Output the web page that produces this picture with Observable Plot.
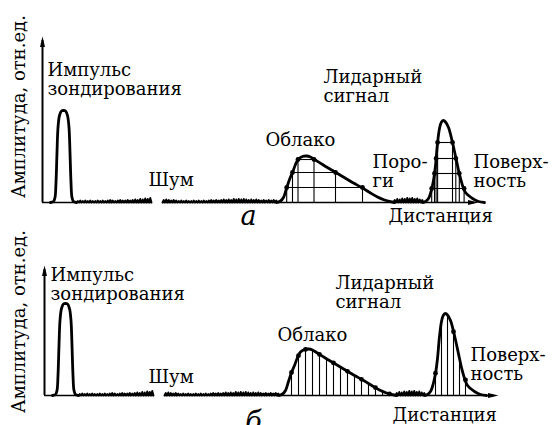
<!DOCTYPE html>
<html><head><meta charset="utf-8">
<script src="https://cdn.jsdelivr.net/npm/d3@7"></script>
<script src="https://cdn.jsdelivr.net/npm/@observablehq/plot@0.6"></script>
<style>
html,body{margin:0;padding:0;background:#fff;}
#wrap{position:relative;width:555px;height:425px;overflow:hidden;background:#fff;}
#wrap svg{position:absolute;left:0;top:0;}
</style></head><body><div id="wrap"></div>
<script>
// ---- Data (distance and amplitude in arbitrary units) ----
const pulseD = [8,11,12.5,13.5,14.5,15.5,17,19,21,23,25,26.5,27.5,28.5,29.5,31,34];
const pulseA = [0,1,5,20,50,75,87,91.5,92,91.5,87,75,50,20,5,1,0];

const cloudD = [234,238,241,244,247,250,253,256,260,264,268,272,280,290,300,310,320,328,335,342,348,352];
const cloudA = [0,1.5,5,14,23,30,38,43.5,46,46.5,45.5,43,38,32,26,20,14.5,9.5,5.5,2.5,0.8,0];

const surfaceD = [380,383,386,388,390,391.5,393,395,397,399,401,403,406,410,415,418,423,430,436,442];
const surfaceA = [0,1,4,9,17,25,37,59,74,80.5,82,80.5,75,60,37,24,10,4,1,0];

// noise bump heights
const noise1Start = 34, noise2Start = 120, noise3Start = 351, noiseStep = 2.5;
const noise1 = [1.5,2,1.5,2,1.5,2,1.5,1.5,2,1.5,2,1.5,2,2.5,2,1.5,2,2.5,2,2,2.5,2,2.5,3,2.5,3.5,3,4,3.5,4.5];
const noise2 = [2.5,3,2.5,2,2.5,2,1.5,2,1.5,2,1.5,1.5,2,1.5,2,1.5,2,1.5,2,2.5,2,2.5,2,2.5,3,2.5,3,2.5,3.5,3,3.5,3,3.5,3,2.5,3,2.5,3,2.5,2,2.5,2,2.5,2,2.5,2];
const noise3 = [2.5,3.5,3,4,3.5,4.5,4,4.5,3.5,4,3,2.5];

// axis break (gap in the distance axis)
const axisBreak = [110, 120];

// panel a: thresholds and curve crossings
const cloudLevels = [15, 30, 43];
const cloudLeft   = [244.2, 250, 255.5];
const cloudRight  = [320, 293, 271.5];
const surfLevels  = [14, 29, 44, 60];
const surfLeft    = [389.2, 392, 393.6, 395.1];
const surfRight   = [421.6, 416.8, 413.3, 410];

// panel b: uniform samples
const cloudSampleD   = [247,254,261,268,275,282,289,296,303,310,317,324,331,338,345];
const cloudSampleA   = [23,39.8,46.1,45.5,41.1,36.8,32.6,28.4,24.2,20,16.2,12,7.8,3.4,1.6];
const cloudSampleDot = [1,1,1,0,1,0,1,0,1,0,1,0,1,0,1];
const surfSampleD    = [391,397,403,409,415,421];
const surfSampleA    = [22.3,74,80.5,63.75,37,15.6];
const surfSampleDot  = [1,0,0,1,0,1];

// texts
const labelsA = ["Импульс\nзондирования","Шум","Облако","Лидарный\nсигнал","Поро-\nги","Поверх-\nность","Дистанция"];
const labelsB = ["Импульс\nзондирования","Шум","Облако","Лидарный\nсигнал","Поверх-\nность","Дистанция"];
const yTitle = "Амплитуда, отн.ед.";
const panelNames = ["а","б"];

// ---- helpers ----
const serif = "'DejaVu Serif', 'Liberation Serif', serif";
const FS = 18;
const zip = (ds, as) => ds.map((d, i) => ({d, a: as[i]}));
function noisePts(start, hs) {
  const pts = [];
  hs.forEach((h, i) => { const x0 = start + i * noiseStep; pts.push({d: x0, a: 0}, {d: x0 + noiseStep / 2, a: h}); });
  pts.push({d: start + hs.length * noiseStep, a: 0});
  return pts;
}
const arrowSym = {draw(ctx, size) {
  const r = Math.sqrt(size / Math.PI);
  ctx.moveTo(0, 0); ctx.lineTo(r * 0.5, r * 2.1); ctx.lineTo(-r * 0.5, r * 2.1); ctx.closePath();
}};

function baseMarks(yTip, xTip) {
  const k = {stroke: "#000"};
  return [
    Plot.ruleX([0], {y1: 0, y2: yTip - 4, strokeWidth: 2, ...k}),
    Plot.dot([{d: 0, a: yTip}], {x: "d", y: "a", symbol: arrowSym, r: 5, fill: "#000", stroke: "none"}),
    Plot.ruleY([{x1: 0, x2: axisBreak[0]}, {x1: axisBreak[1], x2: xTip - 4}], {x1: "x1", x2: "x2", y: 0, strokeWidth: 1.7, ...k}),
    Plot.dot([{d: xTip, a: 0}], {x: "d", y: "a", symbol: arrowSym, r: 5, rotate: 90, fill: "#000", stroke: "none"})
  ];
}
function curveMarks() {
  const c = {x: "d", y: "a", stroke: "#000"};
  return [
    Plot.line(noisePts(noise1Start, noise1), {...c, strokeWidth: 1.9}),
    Plot.line(noisePts(noise2Start, noise2), {...c, strokeWidth: 1.9}),
    Plot.line(noisePts(noise3Start, noise3), {...c, strokeWidth: 1.9}),
    Plot.line(zip(pulseD, pulseA), {...c, curve: "catmull-rom", strokeWidth: 2.8}),
    Plot.line(zip(cloudD, cloudA), {...c, curve: "catmull-rom", strokeWidth: 2.8}),
    Plot.line(zip(surfaceD, surfaceA), {...c, curve: "catmull-rom", strokeWidth: 2.8})
  ];
}
function textMarks(labels, pos) {
  return Plot.text(labels.map((t, i) => ({t, d: pos[i][0], a: pos[i][1]})), {
    x: "d", y: "a", text: "t", textAnchor: "start", lineAnchor: "top",
    fontSize: FS, fontFamily: serif, lineHeight: 1.05, fill: "#000"
  });
}

// ---- panel a ----
const thr = [...cloudLevels.map((l, i) => ({l, x1: cloudLeft[i], x2: cloudRight[i]})),
             ...surfLevels.map((l, i) => ({l, x1: surfLeft[i], x2: surfRight[i]}))];
const cross = [...cloudLevels.flatMap((l, i) => [{d: cloudLeft[i], a: l}, {d: cloudRight[i], a: l}]),
               ...surfLevels.flatMap((l, i) => [{d: surfLeft[i], a: l}, {d: surfRight[i], a: l}])];
const posA = [[5, 139.8], [106, 29.8], [223, 69.8], [281, 132.8], [330, 47.8], [431, 47.8], [346, -6.2]];

const plotA = Plot.plot({
  width: 555, height: 425, margin: 0,
  x: {domain: [0, 436], range: [42, 478], axis: null},
  y: {domain: [0, 165], range: [202, 37], axis: null},
  style: {background: "transparent", overflow: "visible"},
  marks: [
    Plot.ruleY(thr, {y: "l", x1: "x1", x2: "x2", stroke: "#000", strokeWidth: 1.1}),
    Plot.ruleX(cross, {x: "d", y1: 0, y2: "a", stroke: "#000", strokeWidth: 1.1}),
    ...baseMarks(166, 436),
    ...curveMarks(),
    Plot.dot(cross, {x: "d", y: "a", r: 2.4, fill: "#000", stroke: "none"}),
    textMarks(labelsA, posA),
    Plot.text([panelNames[0]], {x: 206, y: -3.7, text: d => d, textAnchor: "middle", lineAnchor: "top", fontSize: 27, fontStyle: "italic", fontFamily: serif, fill: "#000"}),
    Plot.text([yTitle], {x: -22.8, y: 96, text: d => d, rotate: -90, textAnchor: "middle", lineAnchor: "middle", fontSize: FS, fontFamily: serif, fill: "#000"})
  ]
});

// ---- panel b ----
const samples = [...zip(cloudSampleD, cloudSampleA).map((p, i) => ({...p, dot: cloudSampleDot[i]})),
                 ...zip(surfSampleD, surfSampleA).map((p, i) => ({...p, dot: surfSampleDot[i]}))];
const posB = [[6, 127.8], [104, 25.8], [233, 67.8], [291, 119.8], [426, 47.8], [348, -12.2]];

const plotB = Plot.plot({
  width: 555, height: 425, margin: 0,
  x: {domain: [0, 454], range: [44, 498], axis: null},
  y: {domain: [0, 128], range: [395, 267], axis: null},
  style: {background: "transparent", overflow: "visible"},
  marks: [
    Plot.ruleX(samples, {x: "d", y1: 0, y2: "a", stroke: "#000", strokeWidth: 1.1}),
    ...baseMarks(130, 454),
    ...curveMarks(),
    Plot.dot(samples.filter(s => s.dot), {x: "d", y: "a", r: 2.4, fill: "#000", stroke: "none"}),
    textMarks(labelsB, posB),
    Plot.text([panelNames[1]], {x: 209, y: -16.7, text: d => d, textAnchor: "middle", lineAnchor: "top", fontSize: 27, fontStyle: "italic", fontFamily: serif, fill: "#000"}),
    Plot.text([yTitle], {x: -24.8, y: 74, text: d => d, rotate: -90, textAnchor: "middle", lineAnchor: "middle", fontSize: FS, fontFamily: serif, fill: "#000"})
  ]
});

const wrap = document.getElementById("wrap");
wrap.appendChild(plotA);
wrap.appendChild(plotB);
</script></body></html>
